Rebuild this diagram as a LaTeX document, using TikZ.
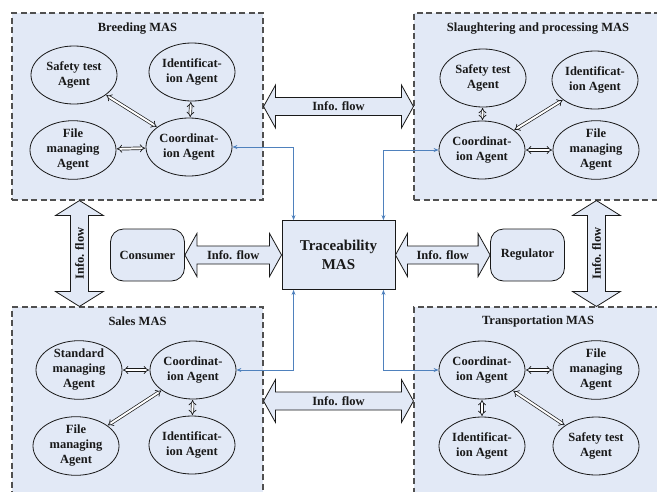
\documentclass[tikz,border=0pt]{standalone}
\usepackage{fontspec}
\setmainfont{Liberation Serif}
\usetikzlibrary{arrows.meta,shapes.geometric,calc}

\definecolor{panelfill}{RGB}{226,233,246}
\definecolor{linkblue}{RGB}{79,129,189}
\definecolor{ink}{RGB}{25,25,25}
\definecolor{dashgray}{RGB}{80,80,80}

\newcommand\labelfont{\fontsize{12.5}{15}\selectfont\bfseries}

\tikzset{
  panel/.style={draw=dashgray, line width=1.1pt, dash pattern=on 6pt off 3.5pt,
                fill=panelfill, inner sep=0pt},
  paneltitle/.style={font=\labelfont, text=ink, inner sep=0pt},
  agent/.style={ellipse, draw=ink, line width=0.8pt, fill=panelfill,
                minimum width=86pt, minimum height=58pt, inner sep=0pt,
                align=center, font=\labelfont, text=ink},
  actor/.style={rectangle, rounded corners=13pt, draw=ink, line width=0.8pt,
                fill=panelfill, minimum width=74pt, minimum height=52pt,
                font=\labelfont, text=ink},
  hub/.style={rectangle, draw=ink, line width=0.9pt, fill=panelfill,
              minimum width=113pt, minimum height=69pt, align=center,
              font=\fontsize{15}{19}\selectfont\bfseries, text=ink},
  pair/.style={draw=ink, line width=0.7pt, double=white, double distance=2pt,
               {Implies}-{Implies}, shorten >=0.5pt, shorten <=0.5pt},
  link/.style={draw=linkblue, line width=0.8pt,
               {Stealth[length=5pt,width=4pt]}-{Stealth[length=5pt,width=4pt]}},
  flowarrow/.style={draw=ink, line width=0.8pt, fill=panelfill, line join=miter},
  flowlabel/.style={font=\labelfont, text=ink, inner sep=0pt},
}

% wide double-headed "Info. flow" arrow, horizontal: #1 label name, #2 left tip, #3 right tip
\newcommand\hflow[3]{%
  \draw[flowarrow] (#2) -- ($(#2)+(12,-21.5)$) -- ($(#2)+(12,-9)$)
    -- ($(#3)+(-12,-9)$) -- ($(#3)+(-12,-21.5)$) -- (#3)
    -- ($(#3)+(-12,21.5)$) -- ($(#3)+(-12,9)$)
    -- ($(#2)+(12,9)$) -- ($(#2)+(12,21.5)$) -- cycle;
  \node[flowlabel] (#1) at ($(#2)!0.5!(#3)$) {Info. flow};}

% the same, vertical: #2 top tip, #3 bottom tip
\newcommand\vflow[3]{%
  \draw[flowarrow] (#2) -- ($(#2)+(24,15)$) -- ($(#2)+(9,15)$)
    -- ($(#3)+(9,-15)$) -- ($(#3)+(24,-15)$) -- (#3)
    -- ($(#3)+(-24,-15)$) -- ($(#3)+(-9,-15)$)
    -- ($(#2)+(-9,15)$) -- ($(#2)+(-24,15)$) -- cycle;
  \node[flowlabel, rotate=90] (#1) at ($(#2)!0.5!(#3)$) {Info. flow};}

\begin{document}
\begin{tikzpicture}[x=1pt, y=-1pt]
  \useasboundingbox (0,0) rectangle (657,491);
  \clip (0,0) rectangle (657,491);

  % the four sub-systems
  \node[panel, minimum width=251pt, minimum height=187pt] (breed)   at (137.5,106.5) {};
  \node[panel, minimum width=248pt, minimum height=187pt] (slaught) at (538,106.5) {};
  \node[panel, minimum width=251pt, minimum height=188pt] (sales)   at (137.5,401) {};
  \node[panel, minimum width=248pt, minimum height=188pt] (trans)   at (538,401) {};

  \node[paneltitle] (breedtitle)   at ($(breed.north)+(0,16)$)        {Breeding MAS};
  \node[paneltitle] (slaughttitle) at ($(slaught.north)+(0,16)$)      {Slaughtering and processing MAS};
  \node[paneltitle] (salestitle)   at ($(sales.north)+(0,15)$)        {Sales MAS};
  \node[paneltitle] (transtitle)   at ($(trans.north)+(0,15)$)        {Transportation MAS};

  % Breeding MAS agents
  \node[agent] (bsafe)  at (74,75)   {Safety test\\Agent};
  \node[agent] (bident) at (192,72)  {Identificat-\\ion Agent};
  \node[agent] (bfile)  at (73,150)  {File\\managing\\Agent};
  \node[agent] (bcoord) at (189,147) {Coordinat-\\ion Agent};
  \draw[pair] (bsafe) -- (bcoord);
  \draw[pair] (bident) -- (bcoord);
  \draw[pair] (bfile) -- (bcoord);

  % Slaughtering and processing MAS agents
  \node[agent] (psafe)  at (483,78)  {Safety test\\Agent};
  \node[agent] (pident) at (595,80)  {Identificat-\\ion Agent};
  \node[agent] (pcoord) at (482,150) {Coordinat-\\ion Agent};
  \node[agent] (pfile)  at (596,150) {File\\managing\\Agent};
  \draw[pair] (psafe) -- (pcoord);
  \draw[pair] (pident) -- (pcoord);
  \draw[pair] (pcoord) -- (pfile);

  % Sales MAS agents
  \node[agent] (sstd)   at (79,370)  {Standard\\managing\\Agent};
  \node[agent] (scoord) at (193,370) {Coordinat-\\ion Agent};
  \node[agent] (sfile)  at (76,446)  {File\\managing\\Agent};
  \node[agent] (sident) at (192,445) {Identificat-\\ion Agent};
  \draw[pair] (sstd) -- (scoord);
  \draw[pair] (sfile) -- (scoord);
  \draw[pair] (scoord) -- (sident);

  % Transportation MAS agents
  \node[agent] (tcoord) at (482,370) {Coordinat-\\ion Agent};
  \node[agent] (tfile)  at (596,370) {File\\managing\\Agent};
  \node[agent] (tident) at (482,446) {Identificat-\\ion Agent};
  \node[agent] (tsafe)  at (596,446) {Safety test\\Agent};
  \draw[pair] (tcoord) -- (tfile);
  \draw[pair] (tcoord) -- (tident);
  \draw[pair] (tcoord) -- (tsafe);

  % central system, consumer and regulator
  \node[hub]   (trace)     at (338.5,255) {Traceability\\MAS};
  \node[actor] (consumer)  at (147.5,255) {Consumer};
  \node[actor] (regulator) at (527.5,255) {Regulator};

  % information flows
  \hflow{flowtop}{breed.east}{slaught.west}
  \hflow{flowbottom}{sales.east}{trans.west}
  \hflow{flowconsumer}{consumer.east}{trace.west}
  \hflow{flowregulator}{trace.east}{regulator.west}
  \coordinate (lvtop) at ($(breed.south west)+(68,0)$);
  \coordinate (lvbot) at ($(sales.north west)+(68,0)$);
  \coordinate (rvtop) at ($(slaught.south west)+(183,0)$);
  \coordinate (rvbot) at ($(trans.north west)+(183,0)$);
  \vflow{flowleft}{lvtop}{lvbot}
  \vflow{flowright}{rvtop}{rvbot}

  % links between the coordination agents and the traceability system
  \draw[link] (bcoord.east) -| ($(trace.north west)+(12,0)$);
  \draw[link] (pcoord.west) -| ($(trace.north east)+(-12,0)$);
  \draw[link] (scoord.east) -| ($(trace.south west)+(12,0)$);
  \draw[link] (tcoord.west) -| ($(trace.south east)+(-12,0)$);
\end{tikzpicture}
\end{document}
